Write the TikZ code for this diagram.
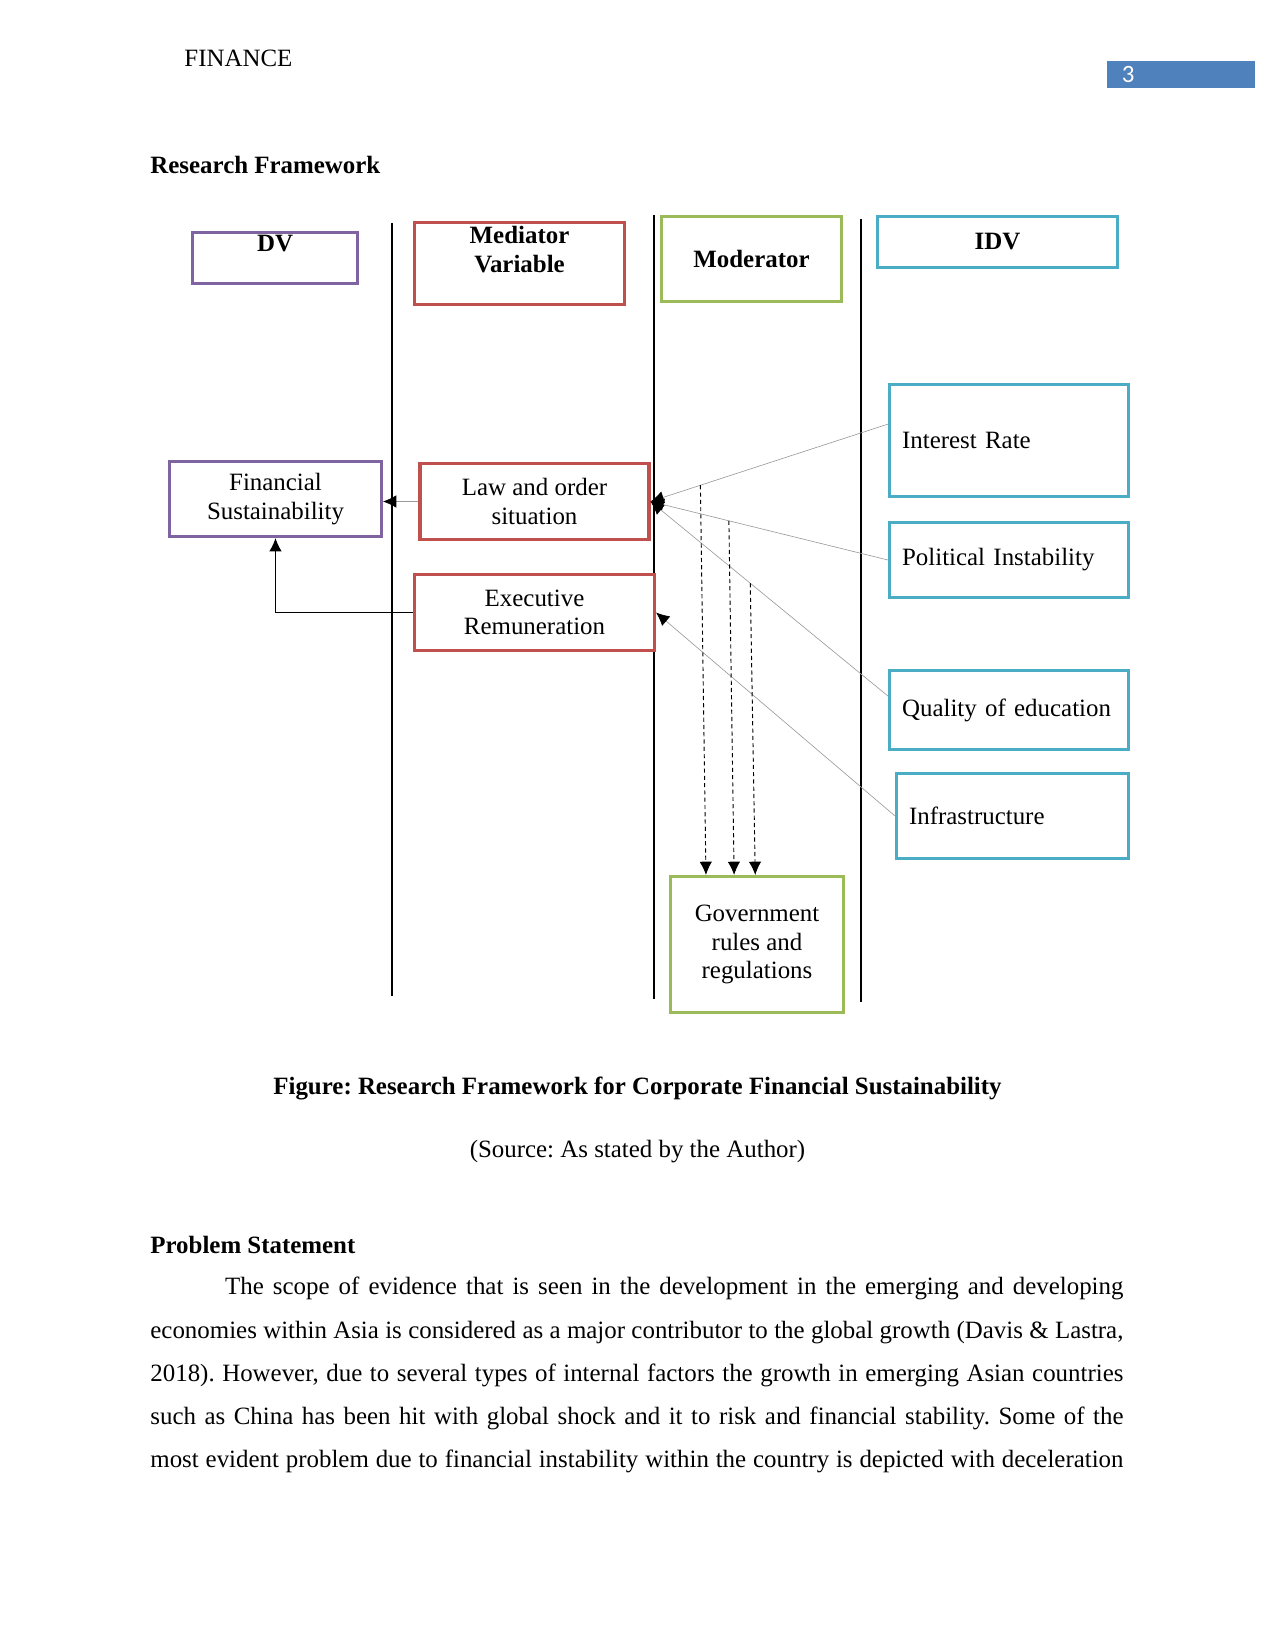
\documentclass[tikz,border=0pt]{standalone}
\usepackage{fontspec}
\setmainfont{Liberation Serif}
\newfontfamily\numfont{Carlito}
\usetikzlibrary{positioning, calc, arrows.meta}
\definecolor{dvpurple}{RGB}{128,100,162}
\definecolor{medred}{RGB}{192,80,77}
\definecolor{modgreen}{RGB}{155,187,89}
\definecolor{idvblue}{RGB}{75,172,198}
\definecolor{pageblue}{RGB}{79,129,189}
\frenchspacing

\begin{document}
\begin{tikzpicture}[x=0.4818pt, y=-0.4818pt,
  every node/.style={font=\fontsize{12}{13.8}\selectfont, inner sep=0pt},
  var/.style={draw, line width=1.5pt, align=center},
  head/.style={var, font=\fontsize{12}{13.8}\selectfont\bfseries},
  idv/.style={var, draw=idvblue, align=left, inner xsep=6pt},
  tip/.style={-{Latex[length=6.4pt, width=6pt, black]}},
  sep/.style={line width=0.5pt},
  idvline/.style={tip, draw=gray!80, line width=0.3pt},
  modline/.style={tip, line width=0.45pt, dash pattern=on 2pt off 1.5pt},
  dvline/.style={tip, line width=0.6pt}
]
\useasboundingbox (0,0) rectangle (1275,1650);

% page head
\node[anchor=west] (runhead) at (184,58) {FINANCE};
\node[fill=pageblue, text=white, font=\numfont\fontsize{12}{14}\selectfont,
  minimum width=71.3pt, minimum height=13pt, text width=56.9pt, inner xsep=7.2pt,
  align=left] (pnum) at (1181,74.5) {3};
\node[anchor=west, font=\fontsize{12}{13.8}\selectfont\bfseries] (title) at (150,165) {Research Framework};

% column heads
\node[head, draw=dvpurple, minimum width=79.4pt, minimum height=24.5pt] (dv) at (275,258) {DV\\~};
\node[head, draw=medred, minimum width=101.1pt, minimum height=39.5pt] (med) at (519.5,263.5) {Mediator\\Variable\\~};
\node[head, draw=modgreen, minimum width=86.7pt, minimum height=40.9pt] (mod) at (751.5,259) {Moderator};
\node[head, draw=idvblue, minimum width=115.6pt, minimum height=24.5pt] (idvh) at (997.5,242) {IDV};

% column rules
\draw[sep] (392,223) -- (392,996);
\draw[sep] (654,215) -- (654,999);
\draw[sep] (861,219) -- (861,1002);

% variables
\node[var, draw=dvpurple, minimum width=102.1pt, minimum height=36.1pt] (fin) at (275.5,499) {Financial\\Sustainability};
\node[var, draw=medred, minimum width=110.3pt, minimum height=36.6pt] (law) at (534.5,501.5) {Law and order\\situation};
\node[var, draw=medred, minimum width=115.6pt, minimum height=36.6pt] (exec) at (534.5,612.5) {Executive\\Remuneration};
\node[var, draw=modgreen, minimum width=83.3pt, minimum height=65.5pt] (gov) at (757,944.5) {Government\\rules and\\regulations};

\node[idv, text width=103pt, minimum width=115.1pt, minimum height=53.9pt] (ir) at (1009,440.5) {Interest Rate};
\node[idv, text width=103pt, minimum width=115.1pt, minimum height=36.1pt] (pi) at (1009,560) {Political Instability};
\node[idv, text width=103pt, minimum width=115.1pt, minimum height=38pt] (qe) at (1009,710) {Quality of education};
\node[idv, text width=99.7pt, minimum width=111.7pt, minimum height=40.9pt] (inf) at (1012.5,816) {Infrastructure};

% links
\draw[idvline] ([yshift=7.9pt]ir.west) -- coordinate[pos=0.79] (d1) (law.east);
\draw[idvline] (pi.west) -- coordinate[pos=0.67] (d2) (law.east);
\draw[idvline] ([yshift=6.7pt]qe.west) -- coordinate[pos=0.58] (d3) (law.east);
\draw[idvline] (inf.west) -- (exec.east);

\coordinate (g1) at ($(gov.north west)!0.21!(gov.north east)$);
\coordinate (g2) at ($(gov.north west)!0.37!(gov.north east)$);
\coordinate (g3) at ($(gov.north west)!0.49!(gov.north east)$);
\draw[modline] (d1) -- (g1);
\draw[modline] (d2) -- (g2);
\draw[modline] (d3) -- (g3);

\draw[idvline] (law.west) -- (law.west -| fin.east);
\draw[dvline] (exec.west) -| (fin.south);

% caption and text
\node[font=\fontsize{12}{13.8}\selectfont\bfseries] (cap) at (637.5,1088) {Figure: Research Framework for Corporate Financial Sustainability};
\node (src) at (637.5,1152) {(Source: As stated by the Author)};
\node[anchor=west, font=\fontsize{12}{13.8}\selectfont\bfseries] (probhead) at (150,1245) {Problem Statement};
\node[anchor=north west, text width=468.8pt, align=justify, font=\fontsize{12}{20.77}\selectfont] (para) at (150,1277)
{\hspace*{36pt}The scope of evidence that is seen in the development in the emerging and developing\linebreak
economies within Asia is considered as a major contributor to the global growth (Davis \& Lastra,\linebreak
2018). However, due to several types of internal factors the growth in emerging Asian countries\linebreak
such as China has been hit with global shock and it to risk and financial stability. Some of the\linebreak
most evident problem due to financial instability within the country is depicted with deceleration\linebreak};
\end{tikzpicture}
\end{document}
